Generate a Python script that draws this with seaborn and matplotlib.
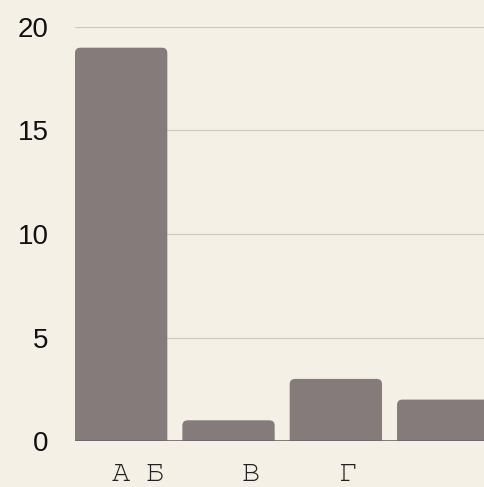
import pandas as pd
import matplotlib.pyplot as plt
import seaborn as sns
from matplotlib.patches import FancyBboxPatch

# datos
categorias = ['b1', 'b2', 'b3', 'b4']
valores = [19, 1, 3, 2]
etiquetas = ['А', 'Б', 'В', 'Г']
pos_etiquetas = [0.0, 0.31, 1.21, 2.11]

fondo = '#f4f0e6'
color_barra = '#857b7b'

df = pd.DataFrame({'cat': categorias, 'valor': valores})

sns.set_style('white')
plt.rcParams['font.family'] = ['Liberation Sans', 'DejaVu Sans']

fig = plt.figure(figsize=(4.84, 4.87), dpi=100, facecolor=fondo)
ax = fig.add_axes([75 / 484, 1 - 441 / 487, 1 - 75 / 484, (441 - 27) / 487])
ax.set_facecolor(fondo)

sns.barplot(x='cat', y='valor', data=df, color=color_barra, width=0.86,
            saturation=1, ax=ax, zorder=2)

ax.set_xlim(-0.43, 3.38)
ax.set_ylim(0, 20)

# barras con esquinas redondeadas
asp = (20 / 414) / (3.81 / 409)
for p in list(ax.patches):
    x, w, h = p.get_x(), p.get_width(), p.get_height()
    p.remove()
    caja = FancyBboxPatch((x, -1), w, h + 1,
                          boxstyle='round,pad=0,rounding_size=0.05',
                          mutation_aspect=asp, facecolor=color_barra,
                          edgecolor='none', zorder=2, clip_on=True)
    ax.add_patch(caja)

ax.set_yticks([0, 5, 10, 15, 20])
ax.yaxis.grid(True, color='#cfc8bc', linewidth=0.8, zorder=0)
ax.axhline(0, color='#6f6767', linewidth=1.2, zorder=3)
ax.tick_params(axis='y', length=0, pad=19, labelsize=20, labelcolor='#111111')
ax.set_xticks([])
ax.set_xlabel('')
ax.set_ylabel('')
for s in ax.spines.values():
    s.set_visible(False)

for xe, txt in zip(pos_etiquetas, etiquetas):
    ax.text(xe, -1.95, txt, ha='center', va='baseline', fontsize=22,
            family=['FreeMono', 'DejaVu Sans Mono'], color='#222222', clip_on=False)

fig.savefig('out.png', dpi=100, facecolor=fondo)
